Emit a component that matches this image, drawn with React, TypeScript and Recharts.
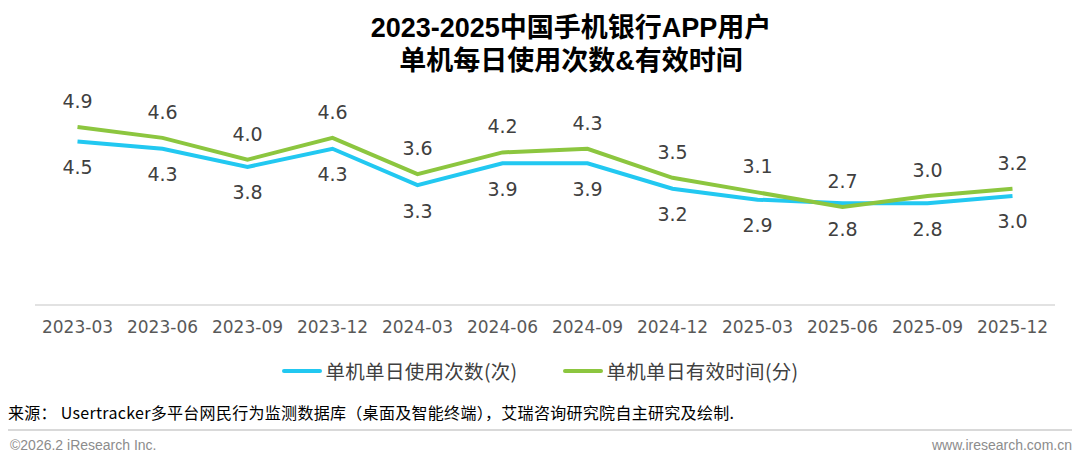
import React from 'react';
import { LineChart, Line, XAxis, YAxis, LabelList } from 'recharts';

const months = [
  '2023-03', '2023-06', '2023-09', '2023-12', '2024-03', '2024-06',
  '2024-09', '2024-12', '2025-03', '2025-06', '2025-09', '2025-12',
];
const dailyTimes = [4.5, 4.3, 3.8, 4.3, 3.3, 3.9, 3.9, 3.2, 2.9, 2.8, 2.8, 3.0];
const dailyMinutes = [4.9, 4.6, 4.0, 4.6, 3.6, 4.2, 4.3, 3.5, 3.1, 2.7, 3.0, 3.2];

const seriesNames = ['单机单日使用次数(次)', '单机单日有效时间(分)'];

const data = months.map((m, i) => ({
  month: m,
  times: dailyTimes[i],
  minutes: dailyMinutes[i],
}));

const BLUE = '#22c8f1';
const GREEN = '#8cc63f';
const LABEL_FONT = '"DejaVu Sans", Verdana, sans-serif';
const CJK = '"Noto Sans CJK SC", "Noto Sans", sans-serif';

const legendItems = [
  { name: seriesNames[0], color: BLUE },
  { name: seriesNames[1], color: GREEN },
];

export default function App() {
  return (
    <div
      style={{
        position: 'absolute',
        top: 0,
        left: 0,
        width: 1080,
        height: 463,
        background: '#fff',
        overflow: 'hidden',
      }}
    >
      <div
        style={{
          position: 'absolute',
          top: 12,
          left: 0,
          width: 1142,
          textAlign: 'center',
          fontFamily: '"Liberation Sans", Arial, ' + CJK,
          fontWeight: 'bold',
          fontSize: 27,
          lineHeight: '33px',
          color: '#000',
        }}
      >
        <div>2023-2025中国手机银行APP用户</div>
        <div>单机每日使用次数&amp;有效时间</div>
      </div>

      <div style={{ position: 'absolute', top: 0, left: 0 }}>
        <LineChart
          width={1080}
          height={395}
          data={data}
          margin={{ top: 87, right: 25, bottom: 0, left: 35 }}
        >
          <YAxis hide domain={[0, 6]} />
          <XAxis
            dataKey="month"
            padding={{ left: 42.5, right: 42.5 }}
            axisLine={{ stroke: '#d9d9d9', strokeWidth: 1.5 }}
            tickLine={false}
            tickMargin={10}
            height={90}
            tick={{ fill: '#595959', fontSize: 17, fontFamily: LABEL_FONT }}
            interval={0}
          />
          <Line
            type="linear"
            dataKey="times"
            name={seriesNames[0]}
            stroke={BLUE}
            strokeWidth={4}
            dot={false}
            isAnimationActive={false}
          >
            <LabelList
              dataKey="times"
              position="bottom"
              offset={19}
              formatter={(v: any) => Number(v).toFixed(1)}
              style={{ fill: '#404040', fontSize: 19, fontFamily: LABEL_FONT }}
            />
          </Line>
          <Line
            type="linear"
            dataKey="minutes"
            name={seriesNames[1]}
            stroke={GREEN}
            strokeWidth={4}
            dot={false}
            isAnimationActive={false}
          >
            <LabelList
              dataKey="minutes"
              position="top"
              offset={19}
              formatter={(v: any) => Number(v).toFixed(1)}
              style={{ fill: '#404040', fontSize: 19, fontFamily: LABEL_FONT }}
            />
          </Line>
        </LineChart>
      </div>

      {/* legend */}
      <div
        style={{
          position: 'absolute',
          top: 356,
          left: 0,
          width: 1080,
          display: 'flex',
          justifyContent: 'center',
        }}
      >
        {legendItems.map((it, i) => (
          <div
            key={i}
            style={{ display: 'flex', alignItems: 'center', marginLeft: i ? 45 : 0 }}
          >
            <span
              style={{
                display: 'inline-block',
                width: 40,
                height: 4,
                borderRadius: 2,
                background: it.color,
                marginRight: 4,
              }}
            />
            <span
              style={{ fontFamily: CJK, fontSize: 19.5, letterSpacing: 0.3, color: '#404040' }}
            >
              {it.name}
            </span>
          </div>
        ))}
      </div>

      <div
        style={{
          position: 'absolute',
          top: 400,
          left: 8,
          fontFamily: '"Liberation Sans Narrow", ' + CJK,
          fontSize: 16,
          letterSpacing: 0.3,
          color: '#000',
          whiteSpace: 'nowrap',
        }}
      >
        来源： Usertracker多平台网民行为监测数据库（桌面及智能终端），艾瑞咨询研究院自主研究及绘制.
      </div>
      <div
        style={{
          position: 'absolute',
          top: 429,
          left: 8,
          width: 1064,
          height: 1.5,
          background: '#d9d9d9',
        }}
      />
      <div
        style={{
          position: 'absolute',
          top: 437,
          left: 10,
          fontFamily: '"Liberation Sans Narrow", "Liberation Sans", sans-serif',
          fontSize: 14,
          color: '#8c8c8c',
        }}
      >
        ©2026.2 iResearch Inc.
      </div>
      <div
        style={{
          position: 'absolute',
          top: 437,
          right: 8,
          fontFamily: '"Liberation Sans Narrow", "Liberation Sans", sans-serif',
          fontSize: 14,
          color: '#8c8c8c',
        }}
      >
        www.iresearch.com.cn
      </div>
    </div>
  );
}
